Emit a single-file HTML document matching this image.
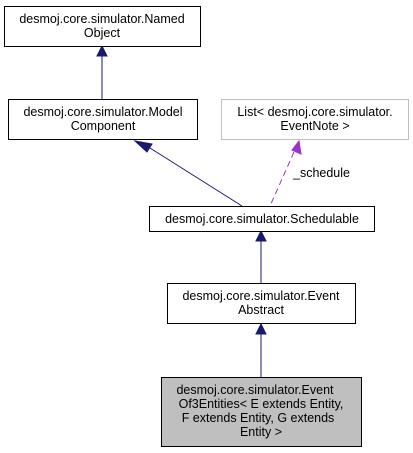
<!DOCTYPE html>
<html><head><style>body{margin:0;background:#fff}svg{display:block}</style></head><body>
<svg width="413" height="453" viewBox="0 0 413 453" xmlns="http://www.w3.org/2000/svg" font-family="Liberation Sans, sans-serif" font-size="12.5">
<g stroke="#191970" fill="none">
<line x1="102" y1="56" x2="102" y2="99"/>
<line x1="150" y1="148" x2="242" y2="206"/>
<line x1="261" y1="241" x2="261" y2="283"/>
<line x1="261" y1="334" x2="261" y2="377"/>
</g>
<g fill="#191970" stroke="#191970">
<polygon points="102,46 97,56 107,56"/>
<polygon points="135,141 152,144 147,152"/>
<polygon points="261,231 256,241 266,241"/>
<polygon points="261,324 256,334 266,334"/>
</g>
<line x1="294" y1="152" x2="270" y2="206" stroke="#9a32cd" stroke-dasharray="6,4"/>
<polygon points="299,141 301,154 292,150" fill="#9a32cd" stroke="#9a32cd"/>
<text x="293" y="177" fill="#000">_schedule</text>
<rect x="4.5" y="6.5" width="196" height="40" fill="#fff" stroke="#000"/>
<text x="102" y="23" text-anchor="middle">desmoj.core.simulator.Named</text>
<text x="102" y="37" text-anchor="middle">Object</text>
<rect x="8.5" y="99.5" width="189" height="40" fill="#fff" stroke="#000"/>
<text x="103" y="116" text-anchor="middle">desmoj.core.simulator.Model</text>
<text x="103" y="130" text-anchor="middle">Component</text>
<rect x="221.5" y="99.5" width="187" height="40" fill="#fff" stroke="#bfbfbf"/>
<text x="315" y="116" text-anchor="middle">List&lt; desmoj.core.simulator.</text>
<text x="315" y="130" text-anchor="middle">EventNote &gt;</text>
<rect x="149.5" y="206.5" width="225" height="25" fill="#fff" stroke="#000"/>
<text x="262" y="223" text-anchor="middle">desmoj.core.simulator.Schedulable</text>
<rect x="167.5" y="283.5" width="188" height="40" fill="#fff" stroke="#000"/>
<text x="261" y="300" text-anchor="middle">desmoj.core.simulator.Event</text>
<text x="261" y="314" text-anchor="middle">Abstract</text>
<rect x="161.5" y="377.5" width="200" height="69" fill="#bfbfbf" stroke="#000"/>
<text x="255" y="394" text-anchor="middle">desmoj.core.simulator.Event</text>
<text x="261" y="408" text-anchor="middle">Of3Entities&lt; E extends Entity,</text>
<text x="258" y="422" text-anchor="middle">F extends Entity, G extends</text>
<text x="261" y="436" text-anchor="middle">Entity &gt;</text>
</svg>
</body></html>
